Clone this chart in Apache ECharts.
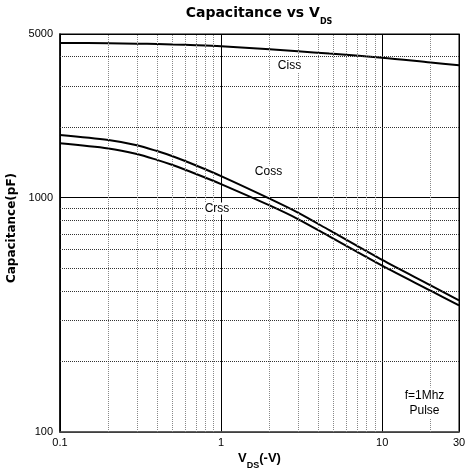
<!DOCTYPE html>
<html><head><meta charset="utf-8">
<script src="https://cdn.jsdelivr.net/npm/echarts@6/dist/echarts.min.js"></script>
<style>html,body{margin:0;padding:0;background:#fff}#c{width:466px;height:468px}</style>
</head><body><div id="c"></div>
<script>
// ---- data ----
const vds  = [0.1, 0.2, 0.3, 0.4, 0.5, 0.7, 1, 2, 3, 4.7, 10, 20, 30];
const ciss = [4580, 4566, 4548, 4530, 4508, 4478, 4434, 4305, 4222, 4124, 3962, 3780, 3680];
const coss = [1854, 1765, 1676, 1582, 1503, 1373, 1237, 991, 864, 727, 543, 423, 365];
const crss = [1709, 1624, 1538, 1451, 1379, 1263, 1144, 927, 811, 684, 513, 401, 347];
const xMinor = [0.2, 0.3, 0.4, 0.5, 0.6, 0.7, 0.8, 0.9, 2, 3, 4, 5, 6, 7, 8, 9, 20];
const yMinor = [200, 300, 400, 500, 600, 700, 800, 900, 2000, 3000, 4000];
const xRange = [0.1, 30];
const yRange = [100, 5000];

const SANS = '"Liberation Sans", Arial, sans-serif';
const DJ = '"DejaVu Sans", sans-serif';

function curve(name, vals) {
  return {
    name, type: 'line', data: vds.map((v, i) => [v, vals[i]]),
    smooth: 0.3, symbol: 'none', silent: true, z: 3,
    lineStyle: { color: '#000', width: 2 }
  };
}

const chart = echarts.init(document.getElementById('c'), null, { renderer: 'canvas' });
chart.setOption({
  animation: false,
  backgroundColor: '#fff',
  title: {
    text: '{m|Capacitance vs V}{s|DS}',
    left: 259, top: 6, padding: 0, textAlign: 'center',
    textStyle: {
      rich: {
        m: { fontFamily: DJ, fontWeight: 'bold', fontSize: 14, color: '#000', verticalAlign: 'top', lineHeight: 16 },
        s: { fontFamily: DJ, fontWeight: 'bold', fontSize: 8, color: '#000', verticalAlign: 'bottom', lineHeight: 20 }
      }
    }
  },
  grid: { left: 60, right: 7, top: 34, bottom: 36, outerBoundsMode: 'none', containLabel: false,
          show: true, borderColor: '#555', borderWidth: 1.5, backgroundColor: 'transparent' },
  xAxis: {
    type: 'log', logBase: 10, min: xRange[0], max: xRange[1],
    name: '{m|V}{s|DS}{m|(-V)}', nameLocation: 'middle', nameGap: 20, nameMoveOverlap: false,
    nameTextStyle: {
      rich: {
        m: { fontFamily: SANS, fontWeight: 'bold', fontSize: 13, color: '#000', verticalAlign: 'top', lineHeight: 14 },
        s: { fontFamily: SANS, fontWeight: 'bold', fontSize: 9, color: '#000', verticalAlign: 'bottom', lineHeight: 18 }
      }
    },
    axisLine: { show: true, lineStyle: { color: '#555', width: 1.5 } },
    axisTick: { show: false },
    axisLabel: { fontFamily: SANS, fontSize: 11, color: '#000', margin: 5, showMinLabel: true, showMaxLabel: true,
      formatter: v => String(+(+v).toPrecision(6)) },
    splitLine: { show: true, lineStyle: { color: '#000', width: 1, type: 'solid' } }
  },
  yAxis: {
    type: 'log', logBase: 10, min: yRange[0], max: yRange[1],
    name: 'Capacitance(pF)', nameLocation: 'middle', nameGap: 38,
    nameTextStyle: { fontFamily: DJ, fontWeight: 'bold', fontSize: 12, color: '#000', padding: [0, 0, 0, 10] },
    axisLine: { show: true, lineStyle: { color: '#000', width: 1.5 } },
    axisTick: { show: false },
    axisLabel: { fontFamily: SANS, fontSize: 11, color: '#000', margin: 7, showMinLabel: true, showMaxLabel: true,
      formatter: v => String(+(+v).toPrecision(6)) },
    splitLine: { show: true, lineStyle: { color: '#000', width: 1, type: 'solid' } }
  },
  series: [
    {
      type: 'line', data: [], silent: true, z: 1,
      markLine: {
        silent: true, symbol: ['none', 'none'], label: { show: false }, animation: false,
        data: [
          ...xMinor.map(v => ({ xAxis: v, lineStyle: { type: 'dotted', color: '#888', width: 1 } })),
          ...yMinor.map(v => ({ yAxis: v, lineStyle: { type: 'dotted', color: '#333', width: 1 } }))
        ]
      }
    },
    curve('Ciss', ciss),
    curve('Coss', coss),
    curve('Crss', crss)
  ],
  graphic: [
    { type: 'text', z: 10, style: { text: 'Ciss', x: 289.5, y: 66, align: 'center', verticalAlign: 'middle', font: '12px ' + SANS, fill: '#000', backgroundColor: '#fff', padding: [0, 1] } },
    { type: 'text', z: 10, style: { text: 'Coss', x: 268.5, y: 171.5, align: 'center', verticalAlign: 'middle', font: '12px ' + SANS, fill: '#000', backgroundColor: '#fff', padding: [0, 1] } },
    { type: 'text', z: 10, style: { text: 'Crss', x: 217, y: 208.5, align: 'center', verticalAlign: 'middle', font: '12px ' + SANS, fill: '#000', backgroundColor: '#fff', padding: [0, 1] } },
    { type: 'text', z: 10, style: { text: 'f=1Mhz\nPulse', x: 424.5, y: 403, align: 'center', verticalAlign: 'middle', font: '12px ' + SANS, lineHeight: 15.5, fill: '#000', backgroundColor: '#fff', padding: [0, 1] } }
  ]
});
</script>
</body></html>
